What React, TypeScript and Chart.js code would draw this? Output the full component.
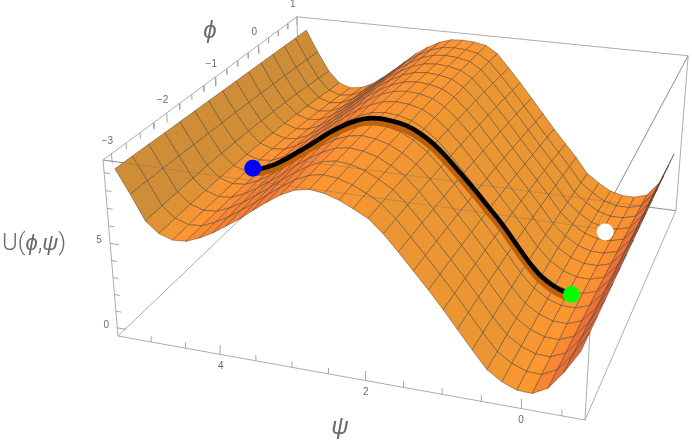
import { useEffect, useRef } from "react";
import { Chart, registerables } from "chart.js";
Chart.register(...registerables);

// Surface heights are estimates: the phi = -3.14 and phi = 1 edges were read off the silhouette,
// and the interior was estimated between them, checked against the path and the three dots.
const phiValues = [-3.14, -2.84, -2.55, -2.25, -1.96, -1.66, -1.37, -1.07, -0.77, -0.48, -0.18, 0.11, 0.41, 0.7, 1.0];
const psiValues = [5.34, 5.15, 4.96, 4.78, 4.59, 4.4, 4.21, 4.02, 3.83, 3.64, 3.46, 3.27, 3.08, 2.89, 2.7, 2.51, 2.32, 2.14, 1.95, 1.76, 1.57, 1.38, 1.19, 1.0, 0.82, 0.63, 0.44, 0.25, 0.06, -0.13, -0.32, -0.5, -0.69];
const surfaceU = [
  [9.30,9.27,9.24,9.20,9.17,9.14,9.11,9.07,9.04,9.01,8.98,8.95,8.91,8.88,8.85],
  [8.00,7.99,7.97,7.95,7.92,7.89,7.86,7.83,7.79,7.74,7.69,7.64,7.58,7.52,7.45],
  [6.60,6.66,6.71,6.74,6.78,6.78,6.77,6.75,6.71,6.66,6.60,6.52,6.43,6.32,6.20],
  [6.00,6.05,6.09,6.11,6.13,6.12,6.10,6.08,6.03,5.97,5.90,5.80,5.70,5.58,5.45],
  [5.75,5.80,5.84,5.86,5.88,5.87,5.85,5.83,5.78,5.72,5.65,5.55,5.45,5.33,5.20],
  [5.80,5.85,5.90,5.92,5.95,5.94,5.93,5.90,5.85,5.80,5.73,5.64,5.54,5.43,5.30],
  [6.10,6.16,6.21,6.23,6.26,6.26,6.25,6.23,6.18,6.13,6.07,5.98,5.88,5.77,5.65],
  [6.50,6.57,6.63,6.67,6.70,6.71,6.71,6.70,6.67,6.63,6.58,6.49,6.41,6.31,6.20],
  [7.00,7.08,7.14,7.19,7.23,7.25,7.25,7.25,7.23,7.19,7.15,7.07,7.00,6.90,6.80],
  [7.50,7.59,7.66,7.72,7.78,7.80,7.82,7.83,7.81,7.79,7.75,7.69,7.63,7.54,7.45],
  [8.07,8.15,8.22,8.27,8.32,8.35,8.35,8.36,8.35,8.33,8.30,8.26,8.20,8.13,8.05],
  [8.62,8.69,8.74,8.79,8.82,8.85,8.85,8.86,8.84,8.83,8.79,8.75,8.69,8.63,8.55],
  [9.13,9.18,9.21,9.24,9.27,9.28,9.28,9.27,9.26,9.22,9.19,9.14,9.09,9.02,8.95],
  [9.50,9.53,9.56,9.57,9.57,9.57,9.57,9.55,9.53,9.49,9.45,9.39,9.34,9.27,9.20],
  [9.65,9.67,9.69,9.69,9.70,9.69,9.68,9.65,9.62,9.57,9.52,9.47,9.41,9.33,9.25],
  [9.55,9.58,9.60,9.61,9.61,9.61,9.60,9.58,9.55,9.51,9.46,9.41,9.35,9.28,9.20],
  [9.30,9.33,9.36,9.38,9.39,9.39,9.39,9.38,9.36,9.32,9.28,9.23,9.19,9.12,9.05],
  [8.95,8.98,9.00,9.01,9.01,9.01,9.00,8.98,8.95,8.91,8.86,8.81,8.75,8.68,8.60],
  [8.55,8.54,8.54,8.51,8.48,8.44,8.41,8.35,8.29,8.22,8.14,8.05,7.96,7.86,7.75],
  [7.85,7.83,7.81,7.77,7.72,7.67,7.62,7.55,7.48,7.39,7.30,7.19,7.09,6.97,6.85],
  [7.00,6.97,6.94,6.89,6.85,6.79,6.73,6.65,6.57,6.47,6.37,6.27,6.16,6.03,5.90],
  [6.10,6.07,6.04,5.98,5.93,5.87,5.81,5.73,5.64,5.54,5.44,5.33,5.21,5.08,4.95],
  [5.20,5.16,5.13,5.07,5.02,4.95,4.89,4.80,4.71,4.61,4.50,4.39,4.27,4.14,4.00],
  [4.25,4.22,4.19,4.13,4.08,4.02,3.96,3.88,3.79,3.69,3.59,3.48,3.36,3.23,3.10],
  [3.30,3.28,3.25,3.21,3.16,3.11,3.05,2.98,2.90,2.81,2.71,2.61,2.50,2.38,2.25],
  [2.30,2.28,2.25,2.21,2.16,2.11,2.05,1.98,1.90,1.81,1.71,1.61,1.50,1.38,1.25],
  [1.35,1.35,1.36,1.34,1.32,1.30,1.27,1.23,1.18,1.11,1.05,0.97,0.89,0.80,0.70],
  [0.80,0.81,0.82,0.81,0.80,0.78,0.76,0.73,0.69,0.63,0.57,0.50,0.43,0.34,0.25],
  [0.48,0.50,0.52,0.52,0.52,0.51,0.50,0.47,0.43,0.38,0.33,0.27,0.21,0.13,0.05],
  [0.45,0.47,0.49,0.49,0.50,0.49,0.48,0.45,0.42,0.37,0.32,0.27,0.21,0.13,0.05],
  [0.90,0.89,0.86,0.84,0.81,0.78,0.74,0.70,0.66,0.60,0.55,0.50,0.44,0.37,0.30],
  [1.90,1.85,1.81,1.76,1.71,1.67,1.62,1.58,1.53,1.48,1.44,1.39,1.34,1.30,1.25],
  [3.20,3.21,3.21,3.22,3.23,3.24,3.24,3.25,3.26,3.26,3.27,3.28,3.29,3.29,3.30],
];
const pathPsi = [4.52,4.4,4.21,4.02,3.83,3.64,3.46,3.27,3.08,2.89,2.7,2.51,2.32,2.14,1.95,1.76,1.57,1.38,1.19,1.0,0.82,0.63,0.44,0.25,0.06];
const pathPhi = [-1.62,-1.6,-1.59,-1.58,-1.58,-1.58,-1.57,-1.56,-1.55,-1.55,-1.55,-1.54,-1.52,-1.5,-1.48,-1.46,-1.44,-1.42,-1.41,-1.4,-1.41,-1.41,-1.42,-1.42,-1.43];
const pathU = [5.95,5.95,6.27,6.72,7.26,7.81,8.36,8.86,9.28,9.58,9.69,9.61,9.4,9.01,8.42,7.63,6.74,5.82,4.9,3.97,3.06,2.06,1.28,0.76,0.5];
const bluePoint = { phi: -1.62, psi: 4.52, u: 6.0 };
const greenPoint = { phi: -1.44, psi: 0.0, u: 0.55 };
const whitePoint = { phi: -0.03, psi: 0.0, u: 0.4 };
const phiTicks = [-3,-2.75,-2.5,-2.25,-2,-1.75,-1.5,-1.25,-1,-0.75,-0.5,-0.25,0,0.25,0.5,0.75,1];
const psiTicks = [-0.5,0,0.5,1,1.5,2,2.5,3,3.5,4,4.5,5];
const uTicks = [0,1,2,3,4,5,6,7,8,9];
const phiLabels = [-3,-2,-1,0,1];
const psiLabels = [0,2,4];
const uLabels = [0,5];

const PHI_MIN = -3.1416, PHI_MAX = 1, PSI_MIN = -0.785, PSI_MAX = 5.498, U_MIN = -0.5, U_MAX = 9.7;

function project(phi: number, psi: number, u: number) {
  const a = (phi - PHI_MIN) / (PHI_MAX - PHI_MIN);
  const b = (PSI_MAX - psi) / (PSI_MAX - PSI_MIN);
  const c = (u - U_MIN) / (U_MAX - U_MIN);
  const w = 1 + 0.27 * a - 0.1 * b - 0.05 * c;
  return {
    x: (118 + 264.3 * a + 408.5 * b - 20.1 * c) / w,
    y: (336 - 131.5 * a + 42 * b - 184 * c) / w,
    w,
  };
}

type Stop = [number, number[]];
const riseStops: Stop[] = [
  [0, [255, 150, 50]], [10, [255, 140, 50]], [20, [245, 120, 50]], [40, [232, 105, 55]], [70, [185, 85, 55]], [130, [110, 65, 55]],
];
const wallStops: Stop[] = [
  [-50, [205, 140, 55]], [-25, [214, 143, 54]], [-12, [238, 148, 50]], [0, [255, 150, 50]], ...riseStops.slice(1),
];
const slopeStops: Stop[] = [
  [-25, [235, 150, 50]], [-10, [248, 150, 50]], [0, [255, 150, 50]], ...riseStops.slice(1),
];
function shade(s: number, stops: Stop[]) {
  if (s <= stops[0][0]) return `rgb(${stops[0][1].join(",")})`;
  for (let i = 1; i < stops.length; i++) {
    if (s <= stops[i][0]) {
      const t = (s - stops[i - 1][0]) / (stops[i][0] - stops[i - 1][0]);
      const c = stops[i - 1][1].map((v, k) => Math.round(v + (stops[i][1][k] - v) * t));
      return `rgb(${c.join(",")})`;
    }
  }
  return `rgb(${stops[stops.length - 1][1].join(",")})`;
}

function lineDs(points: { x: number; y: number }[], color: string, width: number, extra: object = {}) {
  return { type: "scatter", data: points, showLine: true, borderColor: color, borderWidth: width, pointRadius: 0, fill: false, ...extra };
}
function dotDs(p: { phi: number; psi: number; u: number }, color: string, r: number) {
  const q = project(p.phi, p.psi, p.u);
  return { type: "scatter", data: [{ x: q.x, y: q.y }], showLine: false, backgroundColor: color, borderWidth: 0, pointRadius: r };
}

function buildDatasets() {
  const quads: { w: number; ds: object }[] = [];
  for (let i = 0; i < psiValues.length - 1; i++) {
    for (let j = 0; j < phiValues.length - 1; j++) {
      const p00 = project(phiValues[j], psiValues[i], surfaceU[i][j]);
      const p01 = project(phiValues[j + 1], psiValues[i], surfaceU[i][j + 1]);
      const p11 = project(phiValues[j + 1], psiValues[i + 1], surfaceU[i + 1][j + 1]);
      const p10 = project(phiValues[j], psiValues[i + 1], surfaceU[i + 1][j]);
      const s = ((surfaceU[i + 1][j] + surfaceU[i + 1][j + 1] - surfaceU[i][j] - surfaceU[i][j + 1]) / 2) / 0.03;
      const pts = [p00, p01, p11, p10, p00].map((p) => ({ x: p.x, y: p.y }));
      quads.push({
        w: (p00.w + p01.w + p11.w + p10.w) / 4,
        ds: lineDs(pts, "rgba(70,60,45,0.62)", 0.75, {
          fill: "shape",
          backgroundColor: shade(s, psiValues[i] > 4 ? wallStops : slopeStops),
        }),
      });
    }
  }
  quads.sort((m, n) => m.w - n.w); // nearest first: Chart.js paints the first dataset last

  const seg = (p: number[], q: number[]) => {
    const A = project(p[0], p[1], p[2]);
    const B = project(q[0], q[1], q[2]);
    return [{ x: A.x, y: A.y }, { x: B.x, y: B.y }];
  };
  const L = PHI_MIN, R = PHI_MAX, N = PSI_MAX, M = PSI_MIN, D = U_MIN, T = U_MAX;
  const boxColor = "rgb(172,172,172)";
  const boxEdges = [
    [[L, N, D], [R, N, D]], [[L, M, D], [R, M, D]], [[L, N, D], [L, M, D]], [[R, N, D], [R, M, D]],
    [[L, N, T], [R, N, T]], [[L, M, T], [R, M, T]], [[L, N, T], [L, M, T]], [[R, N, T], [R, M, T]],
    [[L, N, D], [L, N, T]], [[R, N, D], [R, N, T]], [[L, M, D], [L, M, T]], [[R, M, D], [R, M, T]],
  ].map(([p, q]) => lineDs(seg(p, q), boxColor, 1));
  const throughEdges = [
    [[L, N, T], [L, M, T]], [[R, N, D], [R, M, D]], [[L, M, T], [R, M, T]],
  ].map(([p, q]) => lineDs(seg(p, q), "rgba(110,110,110,0.35)", 1));
  const tickColor = "rgb(165,165,165)";
  const tickLines = [
    ...phiTicks.map((v) => lineDs(seg([v, N, T], [v, N, T - (Number.isInteger(v) ? 0.55 : 0.35)]), tickColor, 1)),
    ...psiTicks.map((v) => lineDs(seg([L, v, D], [L, v, D + (Number.isInteger(v / 2) ? 0.55 : 0.35)]), tickColor, 1)),
    ...uTicks.map((v) => lineDs(seg([L, N, v], [L, N - (v % 5 === 0 ? 0.13 : 0.08), v]), tickColor, 1)),
  ];
  const pts = pathPsi.map((v, i) => {
    const q = project(pathPhi[i], v, pathU[i] + 0.05);
    return { x: q.x, y: q.y };
  });
  const shadow = pathPsi.map((v, i) => {
    const q = project(pathPhi[i] - 0.02, v, pathU[i] - 0.12);
    return { x: q.x, y: q.y };
  });
  return [
    dotDs(bluePoint, "rgb(0,0,255)", 8.5),
    dotDs(greenPoint, "rgb(0,255,0)", 8.5),
    dotDs(whitePoint, "rgb(255,255,255)", 8.5),
    lineDs(pts, "rgb(0,0,0)", 4.6, { tension: 0.4 }),
    lineDs(shadow, "rgb(190,95,10)", 7.5, { tension: 0.4 }),
    ...throughEdges,
    ...quads.map((q) => q.ds),
    ...tickLines,
    ...boxEdges,
  ];
}

const labelsPlugin = {
  id: "labels3d",
  afterDraw(chart: any) {
    const { ctx, scales } = chart;
    const put = (text: string, px: number, py: number, font: string, align = "center") => {
      ctx.font = font;
      ctx.fillStyle = "rgb(105,105,105)";
      ctx.textAlign = align;
      ctx.textBaseline = "middle";
      ctx.fillText(text, scales.x.getPixelForValue(px), scales.y.getPixelForValue(py));
      return ctx.measureText(text).width;
    };
    const small = '10px "Liberation Sans"';
    const fmt = (v: number) => (v < 0 ? "\u2212" + Math.abs(v) : String(v));
    phiLabels.forEach((v) => {
      const q = project(v, PSI_MAX, U_MAX);
      put(fmt(v), q.x - 4, q.y - 13, small);
    });
    psiLabels.forEach((v) => {
      const q = project(PHI_MIN, v, U_MIN);
      put(String(v), q.x, q.y + 12, small);
    });
    uLabels.forEach((v) => {
      const q = project(PHI_MIN, PSI_MAX, v);
      put(String(v), q.x - 11, q.y - 3, small);
    });
    put("\u03D5", 210, 31, 'italic 24px "Liberation Sans"');
    put("\u03C8", 340, 427, 'italic 24px "Liberation Sans"');
    const plain = '300 24px Roboto';
    const ital = 'italic 22px "Liberation Sans"';
    let x = 2;
    x += put("U(", x, 244, plain, "left");
    x += put("\u03D5", x, 244, ital, "left");
    x += put(",", x, 244, plain, "left");
    x += put("\u03C8", x, 244, ital, "left");
    put(")", x, 244, plain, "left");
  },
};

export default function App() {
  const ref = useRef<HTMLCanvasElement>(null);
  useEffect(() => {
    const chart = new Chart(ref.current as HTMLCanvasElement, {
      type: "scatter",
      data: { datasets: buildDatasets() as any },
      options: {
        animation: false,
        responsive: false,
        layout: { padding: 0, autoPadding: false },
        elements: { line: { borderJoinStyle: "round" } },
        scales: {
          x: { type: "linear", min: 0, max: 692, display: false },
          y: { type: "linear", min: 0, max: 441, reverse: true, display: false },
        },
        plugins: { legend: { display: false }, tooltip: { enabled: false } },
      } as any,
      plugins: [labelsPlugin],
    });
    return () => chart.destroy();
  }, []);
  return (
    <div style={{ position: "fixed", left: 0, top: 0, width: 692, height: 441, background: "#fff" }}>
      <canvas ref={ref} width={692} height={441} style={{ display: "block" }} />
    </div>
  );
}
